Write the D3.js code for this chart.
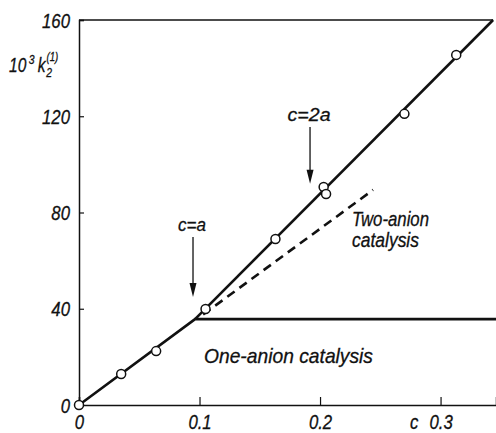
<!DOCTYPE html>
<html><head><meta charset="utf-8">
<script src="https://cdn.jsdelivr.net/npm/d3@7"></script>
<style>
  body { margin: 0; background: #fff; }
  text { font-family: "Liberation Sans", Arial, sans-serif; font-style: italic; fill: #111; stroke: #111; stroke-width: 0.3; }
</style>
</head><body><div id="chart"></div>
<script>
// axis ticks
const xTicks = [0, 0.1, 0.2, 0.3];
const yTicks = [0, 40, 80, 120, 160];
// measured points (c, 10^3 k2)
const pointC = [0, 0.035, 0.064, 0.105, 0.163, 0.203, 0.205, 0.270, 0.313];
const pointK = [0, 12.9, 22.4, 39.9, 69.0, 90.6, 87.7, 121.0, 145.5];
// one-anion catalysis line (rises then levels off)
const oneC = [0, 0.0963, 0.346];
const oneK = [0, 35.7, 35.7];
// total (solid steep) line
const totC = [0.0963, 0.3436];
const totK = [35.7, 160];
// two-anion catalysis (dashed)
const twoC = [0.103, 0.244];
const twoK = [37.6, 89.4];
// arrows marking c=a and c=2a
const arrowLabel = ['c=a', 'c=2a'];
const arrowC = [0.0946, 0.1917];
const arrowTop = [69.8, 115.5];
const arrowTip = [44.9, 91.9];

const W = 496, H = 433;
const x = d3.scaleLinear().domain([0, 0.346]).range([79, 496]);
const y = d3.scaleLinear().domain([0, 160]).range([405, 20]);

const svg = d3.select('#chart').append('svg').attr('width', W).attr('height', H);

// squeeze text sideways, the original lettering is a narrow italic
function condense(sel, s) {
  sel.each(function () {
    const t = d3.select(this);
    const tx = +t.attr('x') || 0, ty = +t.attr('y') || 0;
    t.attr('transform', `translate(${tx},${ty}) scale(${s},1)`).attr('x', 0).attr('y', 0);
  });
}
function label(tx, ty, size, w, str, anchor) {
  return svg.append('text').attr('x', tx).attr('y', ty).attr('font-size', size)
    .attr('text-anchor', anchor || 'start')
    .attr('textLength', w).attr('lengthAdjust', 'spacingAndGlyphs').text(str);
}

// top border ending where the line hits it
svg.append('line').attr('x1', x(0)).attr('x2', x(0.3436)).attr('y1', y(160)).attr('y2', y(160))
  .attr('stroke', '#111').attr('stroke-width', 1.5);

const xAxis = svg.append('g').attr('transform', `translate(0,${y(0)})`)
  .call(d3.axisBottom(x).tickValues(xTicks).tickSize(-8).tickPadding(10)
    .tickFormat(d => d === 0 ? '0' : d3.format('.1f')(d)));
const yAxis = svg.append('g').attr('transform', `translate(${x(0)},0)`)
  .call(d3.axisLeft(y).tickValues(yTicks).tickSize(-5).tickPadding(9).tickFormat(d3.format('d')));
[xAxis, yAxis].forEach(g => {
  g.attr('font-family', null).attr('font-size', null);
  g.select('.domain').attr('stroke', '#111').attr('stroke-width', 1.5);
  g.selectAll('.tick line').attr('stroke', '#111').attr('stroke-width', 1.2);
  g.selectAll('.tick text').attr('font-size', 19.5).attr('fill', '#111');
});
yAxis.selectAll('.tick text').attr('dy', '0.36em');
condense(xAxis.selectAll('.tick text'), 0.86);
condense(yAxis.selectAll('.tick text'), 0.86);

const line = d3.line().x(d => x(d[0])).y(d => y(d[1]));
svg.append('path').datum(d3.zip(oneC, oneK)).attr('d', line)
  .attr('fill', 'none').attr('stroke', '#111').attr('stroke-width', 2.6);
svg.append('path').datum(d3.zip(totC, totK)).attr('d', line)
  .attr('fill', 'none').attr('stroke', '#111').attr('stroke-width', 2.6);
svg.append('path').datum(d3.zip(twoC, twoK)).attr('d', line)
  .attr('fill', 'none').attr('stroke', '#111').attr('stroke-width', 2.6)
  .attr('stroke-dasharray', '9,6');

svg.selectAll('circle.pt').data(d3.zip(pointC, pointK)).join('circle')
  .attr('class', 'pt').attr('cx', d => x(d[0])).attr('cy', d => y(d[1])).attr('r', 4.5)
  .attr('fill', '#fff').attr('stroke', '#111').attr('stroke-width', 1.5);

const arrowW = [28, 43];
arrowLabel.forEach((lbl, i) => {
  const ax = x(arrowC[i]), y0 = y(arrowTop[i]), y1 = y(arrowTip[i]);
  svg.append('line').attr('x1', ax).attr('x2', ax).attr('y1', y0).attr('y2', y1 - 10)
    .attr('stroke', '#111').attr('stroke-width', 1.3);
  svg.append('path').attr('d', `M${ax - 3.5},${y1 - 14} L${ax + 3.5},${y1 - 14} L${ax},${y1} Z`)
    .attr('fill', '#111');
  label(ax - 1, y0 - 6, 19, arrowW[i], lbl, 'middle');
});

// annotations
label(352, 226, 19.5, 77, 'Two-anion');
label(352, 247, 19.5, 67, 'catalysis');
label(204, 363, 21, 169, 'One-anion catalysis');
condense(svg.append('text').attr('x', 410).attr('y', 429).attr('font-size', 19.5).text('c'), 0.86);

// y label: 10^3 k2^(1)
const yl = svg.append('text').attr('x', 9).attr('y', 72).attr('font-size', 19.5);
yl.append('tspan').text('10');
yl.append('tspan').attr('font-size', 13).attr('dx', 3).attr('dy', -8).text('3');
yl.append('tspan').attr('dx', 4).attr('dy', 8).text('k');
yl.append('tspan').attr('font-size', 13).attr('dx', 1).attr('dy', 5).text('2');
yl.append('tspan').attr('font-size', 12).attr('dx', -7).attr('dy', -16).text('(1)');
condense(yl, 0.8);
</script>
</body></html>
